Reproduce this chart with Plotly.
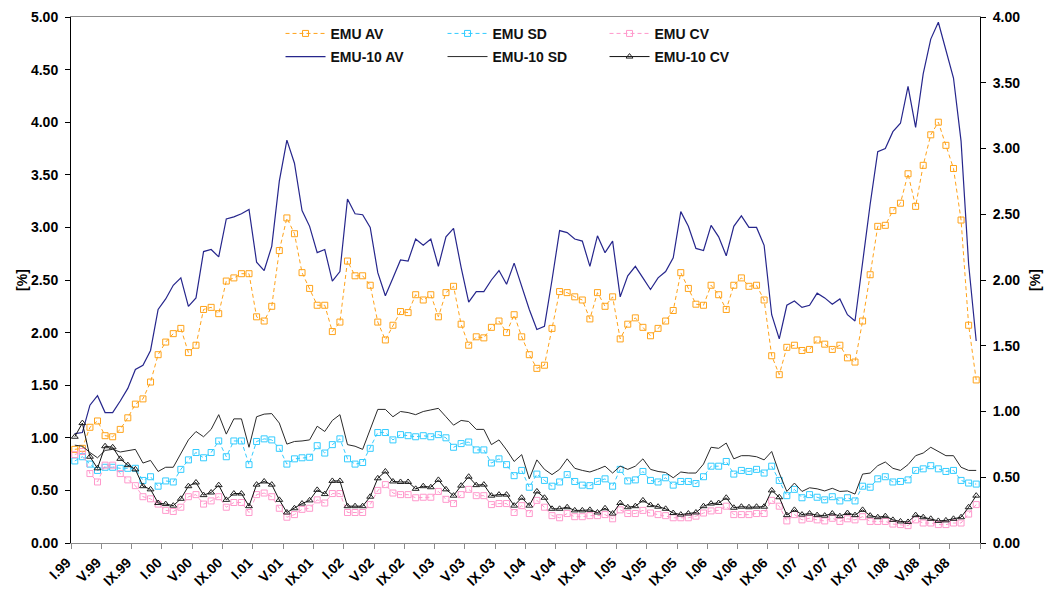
import plotly.graph_objects as go

roman = ["I", "II", "III", "IV", "V", "VI", "VII", "VIII", "IX", "X", "XI", "XII"]
years = ["99", "00", "01", "02", "03", "04", "05", "06", "07", "08"]
months = [f"{m}.{y}" for y in years for m in roman]

emu_av = [0.89, 0.90, 1.10, 1.16, 1.02, 1.01, 1.08, 1.19, 1.32, 1.37,
          1.53, 1.79, 1.91, 1.99, 2.04, 1.81, 1.88, 2.22, 2.24, 2.18,
          2.49, 2.52, 2.56, 2.56, 2.15, 2.11, 2.25, 2.78, 3.09, 2.94,
          2.57, 2.42, 2.26, 2.26, 2.01, 2.10, 2.68, 2.54, 2.54, 2.45,
          2.10, 1.93, 2.07, 2.20, 2.19, 2.36, 2.31, 2.36, 2.15, 2.38,
          2.44, 2.08, 1.88, 1.96, 1.95, 2.05, 2.11, 2.00, 2.17, 1.96,
          1.79, 1.66, 1.69, 2.04, 2.39, 2.38, 2.34, 2.31, 2.13, 2.38,
          2.25, 2.34, 1.94, 2.08, 2.14, 2.05, 1.97, 2.04, 2.11, 2.21,
          2.57, 2.42, 2.27, 2.26, 2.45, 2.36, 2.22, 2.45, 2.52, 2.44,
          2.45, 2.31, 1.78, 1.60, 1.86, 1.88, 1.83, 1.84, 1.93, 1.89,
          1.84, 1.88, 1.76, 1.72, 2.11, 2.55, 3.01, 3.02, 3.16, 3.23,
          3.51, 3.20, 3.59, 3.88, 4.00, 3.78, 3.56, 3.07, 2.07, 1.55]

emu_sd = [0.78, 0.82, 0.75, 0.69, 0.72, 0.72, 0.71, 0.71, 0.71, 0.595,
          0.63, 0.54, 0.59, 0.58, 0.70, 0.79, 0.86, 0.81, 0.86, 0.97,
          0.82, 0.97, 0.97, 0.745, 0.965, 0.99, 0.98, 0.90, 0.75, 0.80,
          0.81, 0.815, 0.925, 0.855, 0.935, 0.99, 0.80, 0.75, 0.765, 0.90,
          1.05, 1.05, 0.98, 1.03, 1.02, 1.01, 1.02, 1.01, 1.03, 1.00,
          0.91, 0.945, 0.96, 0.885, 0.885, 0.76, 0.80, 0.745, 0.64, 0.69,
          0.53, 0.655, 0.595, 0.54, 0.58, 0.65, 0.585, 0.55, 0.545, 0.585,
          0.61, 0.54, 0.70, 0.59, 0.60, 0.68, 0.595, 0.58, 0.62, 0.55,
          0.585, 0.585, 0.565, 0.63, 0.73, 0.73, 0.775, 0.655, 0.69, 0.68,
          0.70, 0.665, 0.73, 0.595, 0.45, 0.51, 0.43, 0.46, 0.435, 0.41,
          0.44, 0.40, 0.43, 0.40, 0.54, 0.53, 0.61, 0.63, 0.58, 0.585,
          0.60, 0.69, 0.705, 0.735, 0.705, 0.68, 0.69, 0.595, 0.57, 0.56]

emu_cv = [0.84, 0.87, 0.66, 0.58, 0.74, 0.74, 0.66, 0.60, 0.545, 0.44,
          0.42, 0.37, 0.31, 0.30, 0.34, 0.44, 0.46, 0.37, 0.40, 0.44,
          0.34, 0.385, 0.385, 0.29, 0.46, 0.475, 0.44, 0.33, 0.245, 0.27,
          0.32, 0.33, 0.41, 0.38, 0.47, 0.47, 0.29, 0.29, 0.29, 0.365,
          0.50, 0.555, 0.475, 0.46, 0.46, 0.43, 0.435, 0.435, 0.49, 0.415,
          0.375, 0.46, 0.51, 0.45, 0.45, 0.365, 0.375, 0.375, 0.29, 0.355,
          0.28, 0.405, 0.34, 0.26, 0.24, 0.28, 0.25, 0.25, 0.26, 0.26,
          0.27, 0.23, 0.315, 0.28, 0.28, 0.31, 0.285, 0.27, 0.26, 0.24,
          0.24, 0.24, 0.255, 0.285, 0.305, 0.31, 0.35, 0.27, 0.27, 0.27,
          0.28, 0.28, 0.405, 0.35, 0.21, 0.27, 0.22, 0.235, 0.22, 0.21,
          0.235, 0.205, 0.23, 0.22, 0.25, 0.205, 0.205, 0.205, 0.18, 0.175,
          0.165, 0.22, 0.19, 0.19, 0.175, 0.175, 0.19, 0.19, 0.275, 0.365]

emu10_av = [1.04, 1.05, 1.31, 1.40, 1.24, 1.24, 1.35, 1.47, 1.65, 1.69,
            1.83, 2.22, 2.32, 2.45, 2.52, 2.25, 2.33, 2.77, 2.79, 2.72,
            3.08, 3.10, 3.13, 3.17, 2.67, 2.59, 2.82, 3.44, 3.83, 3.61,
            3.16, 3.01, 2.76, 2.79, 2.49, 2.58, 3.27, 3.13, 3.12, 3.00,
            2.57, 2.35, 2.52, 2.69, 2.68, 2.89, 2.83, 2.89, 2.63, 2.91,
            2.99, 2.62, 2.29, 2.39, 2.39, 2.50, 2.59, 2.46, 2.66, 2.44,
            2.22, 2.03, 2.06, 2.50, 2.97, 2.95, 2.89, 2.87, 2.63, 2.92,
            2.76, 2.87, 2.34, 2.54, 2.63, 2.52, 2.41, 2.52, 2.58, 2.71,
            3.15, 3.01, 2.80, 2.78, 3.02, 2.91, 2.73, 3.01, 3.11, 3.00,
            3.00, 2.83, 2.17, 1.94, 2.26, 2.30, 2.24, 2.26, 2.375, 2.33,
            2.27, 2.32, 2.17, 2.11, 2.68, 3.22, 3.72, 3.75, 3.91, 3.99,
            4.34, 3.95, 4.46, 4.79, 4.95, 4.69, 4.42, 3.82, 2.65, 1.92]

emu10_sd = [0.93, 0.92, 0.86, 0.81, 0.88, 0.89, 0.865, 0.88, 0.89, 0.76,
            0.785, 0.68, 0.72, 0.72, 0.855, 0.98, 1.06, 1.01, 1.08, 1.22,
            1.035, 1.18, 1.18, 0.91, 1.20, 1.225, 1.23, 1.14, 0.94, 0.965,
            0.97, 0.98, 1.11, 1.06, 1.165, 1.22, 0.935, 0.92, 0.89, 1.08,
            1.27, 1.27, 1.20, 1.25, 1.24, 1.22, 1.25, 1.265, 1.28, 1.20,
            1.12, 1.165, 1.155, 1.08, 1.08, 0.935, 0.98, 0.885, 0.775, 0.84,
            0.61, 0.79, 0.70, 0.65, 0.70, 0.80, 0.71, 0.69, 0.675, 0.70,
            0.73, 0.665, 0.73, 0.70, 0.73, 0.80, 0.70, 0.68, 0.67, 0.62,
            0.675, 0.665, 0.665, 0.75, 0.91, 0.90, 0.95, 0.80, 0.83, 0.83,
            0.82, 0.79, 0.87, 0.665, 0.49, 0.57, 0.49, 0.525, 0.515, 0.495,
            0.52, 0.49, 0.495, 0.465, 0.655, 0.665, 0.735, 0.77, 0.71, 0.69,
            0.745, 0.83, 0.855, 0.91, 0.87, 0.83, 0.83, 0.72, 0.69, 0.69]

emu10_cv = [1.01, 1.14, 0.82, 0.71, 0.92, 0.91, 0.80, 0.74, 0.70, 0.54,
            0.51, 0.38, 0.37, 0.355, 0.42, 0.54, 0.575, 0.455, 0.48, 0.55,
            0.41, 0.47, 0.47, 0.35, 0.555, 0.585, 0.555, 0.41, 0.29, 0.33,
            0.375, 0.405, 0.505, 0.465, 0.59, 0.59, 0.35, 0.35, 0.35, 0.44,
            0.615, 0.68, 0.585, 0.58, 0.58, 0.515, 0.54, 0.53, 0.60, 0.51,
            0.45, 0.545, 0.63, 0.55, 0.555, 0.45, 0.46, 0.46, 0.355, 0.43,
            0.355, 0.49, 0.43, 0.325, 0.325, 0.34, 0.31, 0.31, 0.315, 0.29,
            0.33, 0.28, 0.38, 0.34, 0.35, 0.405, 0.36, 0.345, 0.325, 0.285,
            0.27, 0.28, 0.29, 0.35, 0.375, 0.38, 0.43, 0.335, 0.345, 0.34,
            0.345, 0.345, 0.50, 0.435, 0.265, 0.315, 0.27, 0.28, 0.265, 0.26,
            0.28, 0.255, 0.285, 0.265, 0.315, 0.26, 0.245, 0.255, 0.22, 0.205,
            0.20, 0.265, 0.245, 0.23, 0.21, 0.215, 0.23, 0.245, 0.34, 0.45]

FONT = "Liberation Sans, Arial, sans-serif"

fig = go.Figure()

def dashed(name, y, color, legend):
    fig.add_trace(go.Scatter(
        x=months, y=y, name=name, mode="lines+markers", legend=legend,
        line=dict(color=color, width=1, dash="4px,3px"),
        marker=dict(symbol="square-open", size=6, color=color, line=dict(color=color, width=1)),
    ))

dashed("EMU AV", emu_av, "#FFA31A", "legend")
dashed("EMU SD", emu_sd, "#33CCFF", "legend")
dashed("EMU CV", emu_cv, "#FF99CC", "legend")

fig.add_trace(go.Scatter(x=months, y=emu10_av, name="EMU-10 AV", mode="lines", legend="legend2",
                         line=dict(color="#26268C", width=1.2)))
fig.add_trace(go.Scatter(x=months, y=emu10_sd, name="EMU-10 SD", mode="lines", legend="legend2",
                         line=dict(color="#2a2a2a", width=1)))
fig.add_trace(go.Scatter(x=months, y=emu10_cv, name="EMU-10 CV", mode="lines+markers", legend="legend2",
                         line=dict(color="#111111", width=1),
                         marker=dict(symbol="triangle-up-open", size=6, color="#222222",
                                     line=dict(color="#222222", width=1))))
fig.add_trace(go.Scatter(x=[months[0]], y=[None], yaxis="y2", showlegend=False, hoverinfo="skip"))

tick_font = dict(family=FONT, size=14, color="#000000", weight="bold")
title_font = dict(family=FONT, size=14, color="#000000", weight="bold")
legend_common = dict(orientation="h", xanchor="left", yanchor="middle",
                     font=dict(family=FONT, size=14, color="#111111", weight="bold"),
                     entrywidth=107, itemwidth=40, bgcolor="rgba(0,0,0,0)", tracegroupgap=0)

fig.update_layout(
    width=1050, height=597,
    margin=dict(l=71, r=70, t=17, b=54, autoexpand=False),
    paper_bgcolor="white", plot_bgcolor="white",
    showlegend=True,
    legend=dict(x=0.2305, y=0.968, **legend_common),
    legend2=dict(x=0.2305, y=0.924, **legend_common),
    xaxis=dict(type="category", range=[-0.5, 119.5], dtick=4, tickson="boundaries",
               tickangle=-45, tickfont=dict(family=FONT, size=14, color="#000000", weight="bold"),
               ticklabelshift=-8, ticklabelstandoff=5,
               showline=True, linecolor="#8c8c8c", linewidth=1, mirror=True, automargin=False,
               ticks="outside", ticklen=5, tickcolor="#8c8c8c", showgrid=False, zeroline=False),
    yaxis=dict(range=[0, 5], dtick=0.5, tickformat=".2f", tickfont=tick_font, automargin=False,
               showline=True, linecolor="#000000", linewidth=1, ticks="outside", ticklen=5,
               tickcolor="#000000", showgrid=False, zeroline=False, ticklabelstandoff=4,
               title=dict(text="[%]", font=title_font, standoff=0)),
    yaxis2=dict(range=[0, 4], dtick=0.5, tickformat=".2f", tickfont=tick_font, overlaying="y",
                side="right", showline=True, linecolor="#000000", linewidth=1, ticks="outside",
                ticklen=5, tickcolor="#000000", showgrid=False, zeroline=False, automargin=False,
                ticklabelstandoff=4,
                title=dict(text="[%]", font=title_font, standoff=10)),
)

fig.write_html("out.html", config={"displayModeBar": False},
               post_script="document.body.style.margin='0px';")
